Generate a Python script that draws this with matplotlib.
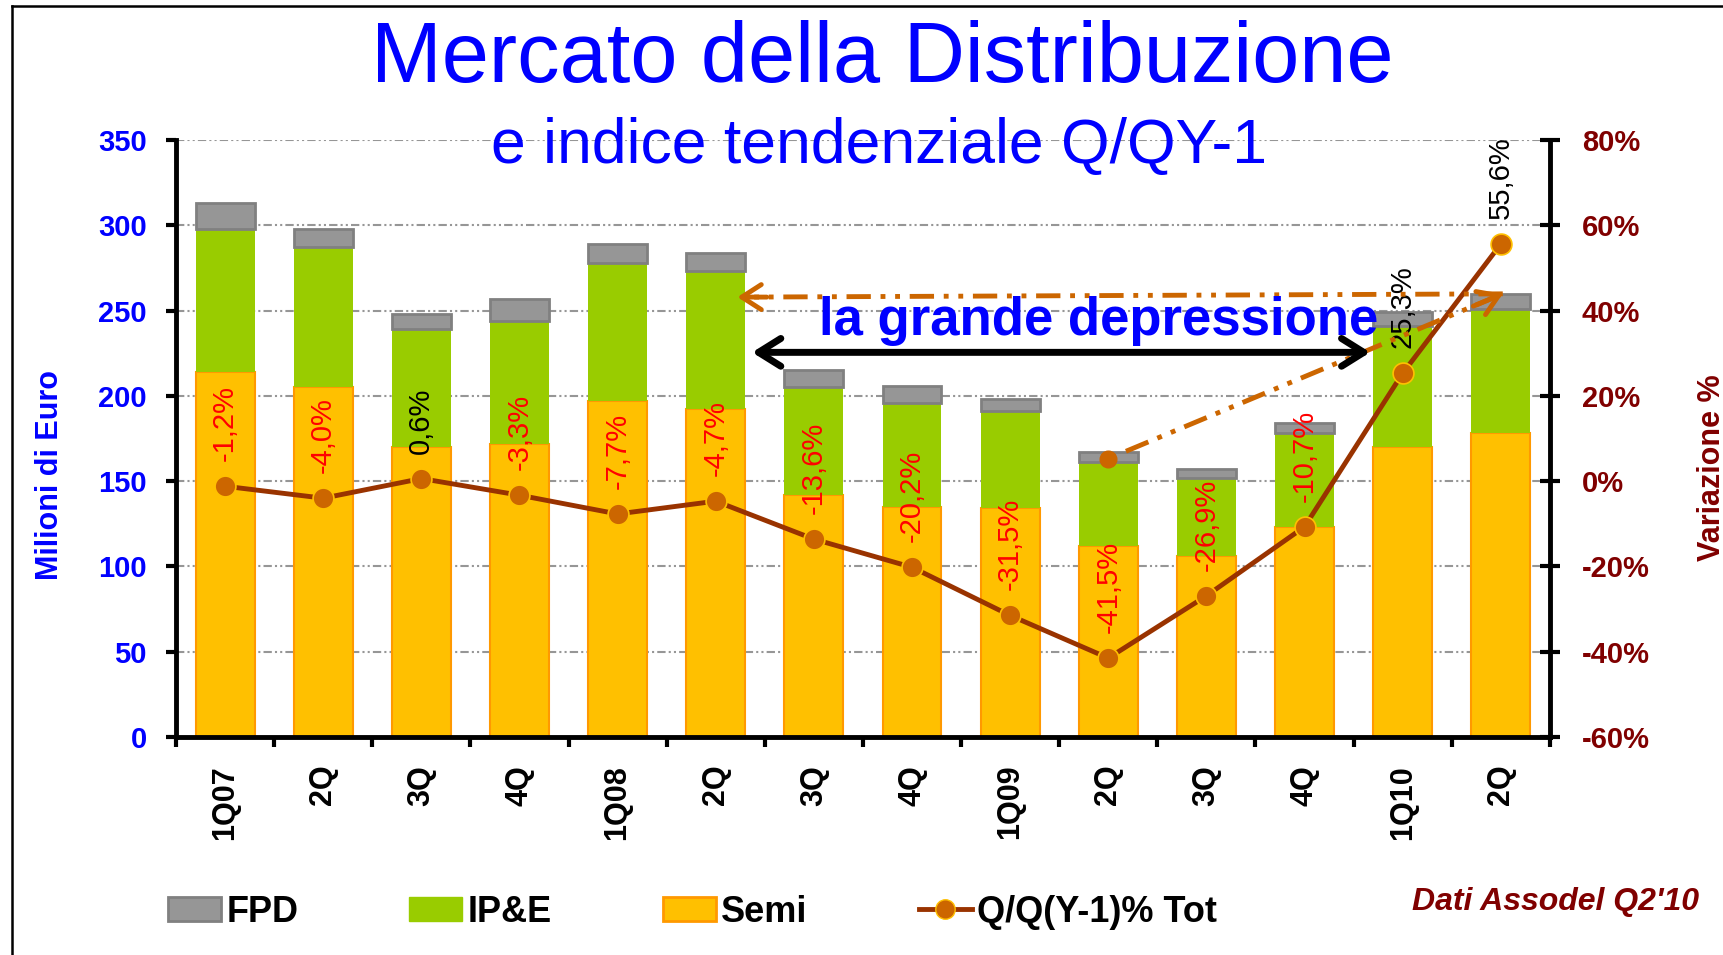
import matplotlib
matplotlib.use("Agg")
import matplotlib.pyplot as plt
from matplotlib.lines import Line2D
from matplotlib.patches import Patch
import numpy as np

plt.rcParams['font.family'] = ['Liberation Sans', 'DejaVu Sans']

# --- data ---
quarters = ["1Q07", "2Q", "3Q", "4Q", "1Q08", "2Q", "3Q", "4Q",
            "1Q09", "2Q", "3Q", "4Q", "1Q10", "2Q"]
semi = [214, 205, 170, 172, 197, 192, 142, 135, 134, 112, 106, 123, 170, 178]
ipe = [84, 82, 69, 72, 81, 81, 63, 61, 57, 49, 46, 55, 71, 73]
fpd = [15, 11, 9, 13, 11, 11, 10, 10, 7, 6, 5, 6, 8, 9]
var_pct = [-1.2, -4.0, 0.6, -3.3, -7.7, -4.7, -13.6, -20.2, -31.5, -41.5,
           -26.9, -10.7, 25.3, 55.6]

BLUE = "#0000FF"
DARKRED = "#800000"
C_FPD, C_IPE, C_SEMI = "#969696", "#99CC00", "#FFC000"
C_LINE, C_MARK, C_ARROW = "#993300", "#CC6600", "#CC6600"

fig = plt.figure(figsize=(17.24, 9.55), dpi=100)
ax = fig.add_axes([0.1021, 0.2283, 0.7969, 0.6251])
ax2 = ax.twinx()

x = np.arange(len(quarters))
semi_a, ipe_a, fpd_a = np.array(semi), np.array(ipe), np.array(fpd)

# --- stacked bars ---
w = 0.6
ax.bar(x, semi_a, w, color=C_SEMI, edgecolor="#FF9900", linewidth=1.5, zorder=2)
ax.bar(x, ipe_a, w, bottom=semi_a, color=C_IPE, linewidth=0, zorder=2)
ax.bar(x, fpd_a, w, bottom=semi_a + ipe_a, color=C_FPD, edgecolor="#808080",
       linewidth=2, zorder=2)

ax.set_xlim(-0.5, len(quarters) - 0.5)
ax.set_ylim(0, 350)
ax.set_yticks(np.arange(0, 351, 50))
ax.set_axisbelow(True)
ax.yaxis.grid(True, color="#969696", linewidth=1.5,
              linestyle=(0, (4, 1.5, 1, 1.5, 1, 1.5)))

ax.set_xticks(x)
ax.set_xticklabels(quarters, rotation=90, fontsize=22, fontweight="bold",
                   va="top")
ax.set_xticks(np.arange(-0.5, len(quarters)), minor=True)
ax.tick_params(axis="x", which="major", length=0, pad=20)
ax.tick_params(axis="x", which="minor", length=7, width=3, direction="out")
ax.tick_params(axis="y", length=7, width=3, direction="out", pad=14,
               labelsize=21, labelcolor=BLUE)
for lab in ax.get_yticklabels():
    lab.set_fontweight("bold")

for s in ["top", "right"]:
    ax.spines[s].set_visible(False)
for s in ["left", "bottom"]:
    ax.spines[s].set_linewidth(3.5)

# --- percentage line on right axis ---
ax2.set_ylim(-60, 80)
ax2.set_yticks(np.arange(-60, 81, 20))
ax2.set_yticklabels([f"{v}%" for v in range(-60, 81, 20)])
ax2.tick_params(axis="y", length=14, width=3, direction="inout", pad=16,
                labelsize=21, labelcolor=DARKRED)
for lab in ax2.get_yticklabels():
    lab.set_fontweight("bold")
for s in ["top", "left", "bottom"]:
    ax2.spines[s].set_visible(False)
ax2.spines["right"].set_linewidth(3.5)

ax2.plot(x, var_pct, color=C_LINE, linewidth=3.5, marker="o", markersize=15,
         markerfacecolor=C_MARK, markeredgecolor="#FFC000",
         markeredgewidth=1.2, zorder=5)

for i, v in enumerate(var_pct):
    txt = f"{v:.1f}%".replace(".", ",")
    ax2.annotate(txt, (i, v), xytext=(0, 18), textcoords="offset points",
                 rotation=90, ha="center", va="bottom", fontsize=21,
                 color="#FF0000" if v < 0 else "black", zorder=6)

# --- "la grande depressione" annotations (in bar-axis coordinates) ---
dash = (0, (5, 2, 1, 2, 1, 2))
tip = (13.02, 259.8)
start_h = (5.22, 257.9)
start_d = (9.0, 163.0)

ax2.plot([tip[0], start_h[0] + 0.1], [tip[1], start_h[1]], color=C_ARROW,
         linewidth=3.5, linestyle=dash, transform=ax.transData, zorder=7)
ax2.annotate("", xy=start_h, xytext=(start_h[0] + 0.3, start_h[1]),
             xycoords=ax.transData, textcoords=ax.transData,
             arrowprops=dict(arrowstyle="->,head_length=0.7,head_width=0.45",
                             color=C_ARROW, lw=3.5, mutation_scale=20,
                             shrinkA=0, shrinkB=0), zorder=7)

ax2.plot([start_d[0]], [start_d[1]], marker="o", markersize=12,
         color=C_MARK, transform=ax.transData, zorder=7)
ax2.plot([start_d[0] + 0.18, tip[0] - 0.1], [start_d[1] + 4.5, tip[1] - 2.4],
         color=C_ARROW, linewidth=3.5, linestyle=dash,
         transform=ax.transData, zorder=7)
ax2.annotate("", xy=tip, xytext=(tip[0] - 0.3, tip[1] - 7.2),
             xycoords=ax.transData, textcoords=ax.transData,
             arrowprops=dict(arrowstyle="->,head_length=0.7,head_width=0.45",
                             color=C_ARROW, lw=3.5, mutation_scale=20,
                             shrinkA=0, shrinkB=0), zorder=7)

ax2.annotate("", xy=(5.37, 225.5), xytext=(11.67, 225.5),
             xycoords=ax.transData, textcoords=ax.transData,
             arrowprops=dict(arrowstyle="<->,head_length=0.8,head_width=0.5",
                             color="black", lw=5, mutation_scale=20,
                             shrinkA=0, shrinkB=0), zorder=7)
ax2.text(8.9, 244, "la grande depressione", transform=ax.transData,
         ha="center", va="center", fontsize=38, fontweight="bold",
         color=BLUE, zorder=8)

# --- titles and axis labels ---
fig.text(0.512, 0.937, "Mercato della Distribuzione", ha="center",
         va="center", fontsize=61, color=BLUE)
fig.text(0.51, 0.847, "e indice tendenziale Q/QY-1", ha="center",
         va="center", fontsize=45, color=BLUE)
fig.text(0.029, 0.503, "Milioni di Euro", rotation=90, ha="center",
         va="center", fontsize=22, fontweight="bold", color=BLUE)
fig.text(0.993, 0.51, "Variazione %", rotation=90, ha="center",
         va="center", fontsize=22, fontweight="bold", color=DARKRED)
fig.text(0.9855, 0.0557, "Dati Assodel Q2'10", ha="right", va="center",
         fontsize=23, fontweight="bold", fontstyle="italic", color=DARKRED)

# --- legend ---
handles = [
    Patch(facecolor=C_FPD, edgecolor="#808080", linewidth=2),
    Patch(facecolor=C_IPE, edgecolor=C_IPE),
    Patch(facecolor=C_SEMI, edgecolor="#FF9900", linewidth=2),
    Line2D([0], [0], color=C_LINE, linewidth=3.5, marker="o", markersize=14,
           markerfacecolor=C_MARK, markeredgecolor="#FFC000"),
]
labels = ["FPD", "IP&E", "Semi", "Q/Q(Y-1)% Tot"]
fig.legend(handles, labels, loc="center left", bbox_to_anchor=(0.087, 0.045),
           ncol=4, frameon=False, borderpad=0, handlelength=1.47,
           handleheight=0.65, handletextpad=0.15, columnspacing=3.07,
           prop=dict(size=26, weight="bold"))

# --- outer frame (left and top edges) ---
fig.add_artist(Line2D([0.007, 0.007], [0, 0.994], color="black",
                      linewidth=1.8, transform=fig.transFigure))
fig.add_artist(Line2D([0.007, 1], [0.994, 0.994], color="black",
                      linewidth=1.8, transform=fig.transFigure))

fig.savefig("out.png", dpi=100)
